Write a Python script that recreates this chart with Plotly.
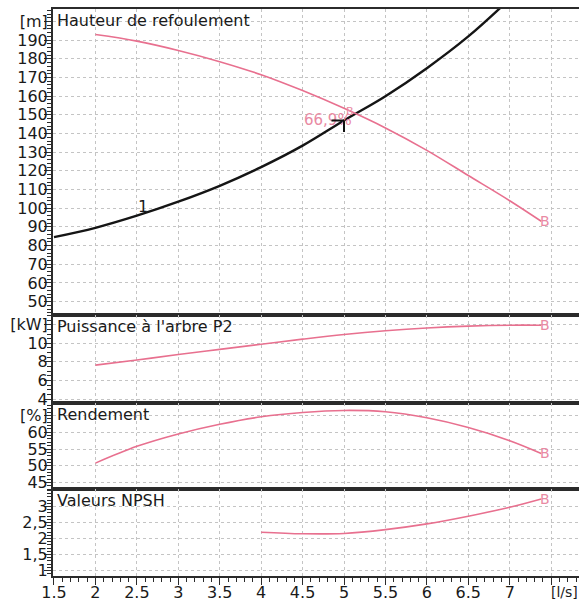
import plotly.graph_objects as go

# ---------------- data ----------------
q_head = [2.0, 2.5, 3.0, 3.5, 4.0, 4.5, 5.0, 5.5, 6.0, 6.5, 7.0, 7.38]
head = [193.0, 189.5, 184.5, 178.5, 171.5, 163.0, 153.5, 143.0, 131.0, 117.5, 104.0, 93.0]

q_sys = [1.5, 2.0, 2.5, 3.0, 3.5, 4.0, 4.5, 5.0, 5.5, 6.0, 6.5, 7.0]
sys_head = [84.5, 89.5, 96.0, 103.5, 112.0, 122.0, 133.5, 147.0, 160.0, 175.0, 192.0, 212.0]

q_pow = [2.0, 2.5, 3.0, 3.5, 4.0, 4.5, 5.0, 5.5, 6.0, 6.5, 7.0, 7.38]
power = [7.65, 8.2, 8.8, 9.35, 9.9, 10.45, 10.95, 11.35, 11.65, 11.85, 11.95, 11.95]

q_eff = [2.0, 2.5, 3.0, 3.5, 4.0, 4.5, 5.0, 5.5, 6.0, 6.5, 7.0, 7.38]
eff = [50.8, 55.8, 59.5, 62.4, 64.6, 65.9, 66.5, 66.1, 64.3, 61.4, 57.5, 53.7]

q_npsh = [4.0, 4.5, 5.0, 5.5, 6.0, 6.5, 7.0, 7.38]
npsh = [2.2, 2.15, 2.16, 2.28, 2.46, 2.7, 2.98, 3.24]

q_op = 5.07
head_op = 151.8
eff_op_text = "66,9%"
q_sys_mark = 5.0
sys_mark = 147.0
q_curve_label = 2.57
sys_curve_label = 97.3

x_tickvals = [1.5, 2, 2.5, 3, 3.5, 4, 4.5, 5, 5.5, 6, 6.5, 7, 7.5]
x_ticktext = ["1.5", "2", "2.5", "3", "3.5", "4", "4.5", "5", "5.5", "6", "6.5", "7", ""]
x_unit = "[l/s]"
x_unit_pos = 7.66

h_tickvals = [50, 60, 70, 80, 90, 100, 110, 120, 130, 140, 150, 160, 170, 180, 190, 200]
h_ticktext = ["50", "60", "70", "80", "90", "100", "110", "120", "130", "140", "150",
              "160", "170", "180", "190", "[m]"]
p_tickvals = [4, 6, 8, 10, 12]
p_ticktext = ["4", "6", "8", "10", "[kW]"]
e_tickvals = [45, 50, 55, 60, 65]
e_ticktext = ["45", "50", "55", "60", "[%]"]
n_tickvals = [1, 1.5, 2, 2.5, 3]
n_ticktext = ["1", "1,5", "2", "2,5", "3"]

titles = ["Hauteur de refoulement", "Puissance à l'arbre P2", "Rendement", "Valeurs NPSH"]

# ---------------- style ----------------
PINK = "#e8708f"
PINK_TXT = "#e98aa3"
AX = "#2b2b2b"
GRID = "#c4c4c4"
FONT = "DejaVu Sans, Arial, sans-serif"
FS = 16
TXT = "#1a1a1a"

XR = [1.488, 7.836]
domains = [[0.4603, 1.0], [0.3056, 0.4603], [0.1529, 0.3056], [0.0, 0.1529]]
yranges = [[42.8, 206.7], [3.6, 13.05], [43.0, 68.8], [0.83, 3.54]]
yticks = [(h_tickvals, h_ticktext, 2), (p_tickvals, p_ticktext, 0.5),
          (e_tickvals, e_ticktext, 1), (n_tickvals, n_ticktext, 0.1)]

fig = go.Figure()

def ax(i):
    return ("x" if i == 0 else f"x{i+1}"), ("y" if i == 0 else f"y{i+1}")

# traces
xa, ya = ax(0)
fig.add_trace(go.Scatter(x=q_sys, y=sys_head, mode="lines", xaxis=xa, yaxis=ya,
                         line=dict(color="#151515", width=2.4, shape="spline")))
fig.add_trace(go.Scatter(x=q_head, y=head, mode="lines", xaxis=xa, yaxis=ya,
                         line=dict(color=PINK, width=1.6, shape="spline")))
xa, ya = ax(1)
fig.add_trace(go.Scatter(x=q_pow, y=power, mode="lines", xaxis=xa, yaxis=ya,
                         line=dict(color=PINK, width=1.6, shape="spline")))
xa, ya = ax(2)
fig.add_trace(go.Scatter(x=q_eff, y=eff, mode="lines", xaxis=xa, yaxis=ya,
                         line=dict(color=PINK, width=1.6, shape="spline")))
xa, ya = ax(3)
fig.add_trace(go.Scatter(x=q_npsh, y=npsh, mode="lines", xaxis=xa, yaxis=ya,
                         line=dict(color=PINK, width=1.6, shape="spline")))

layout = dict(
    width=579, height=602,
    margin=dict(l=53, r=0, t=9, b=26, autoexpand=False),
    paper_bgcolor="white", plot_bgcolor="white",
    showlegend=False,
    font=dict(family=FONT, size=FS, color=TXT),
)

for i in range(4):
    xk = "xaxis" if i == 0 else f"xaxis{i+1}"
    yk = "yaxis" if i == 0 else f"yaxis{i+1}"
    xa, ya = ax(i)
    last = (i == 3)
    layout[xk] = dict(
        domain=[0, 1], range=XR, anchor=ya, automargin=False,
        showline=True, linecolor=AX, linewidth=2, mirror=True,
        tickmode="array", tickvals=x_tickvals, ticktext=x_ticktext,
        showticklabels=last, ticks="outside" if last else "",
        ticklen=7, tickwidth=1.3, tickcolor=AX, ticklabelstandoff=-6,
        showgrid=True, gridcolor=GRID, griddash="dot", gridwidth=1,
        zeroline=False, fixedrange=True,
        tickfont=dict(family=FONT, size=FS, color=TXT),
    )
    if last:
        layout[xk]["minor"] = dict(ticks="outside", ticklen=4, tick0=1.5, dtick=0.1,
                                   tickcolor=AX, tickwidth=1, showgrid=False)
    tv, tt, mdt = yticks[i]
    layout[yk] = dict(
        domain=domains[i], range=yranges[i], anchor=xa, automargin=False,
        showline=True, linecolor=AX, linewidth=2, mirror=False,
        tickmode="array", tickvals=tv, ticktext=tt,
        ticks="outside", ticklen=7, tickwidth=1.3, tickcolor=AX, ticklabelstandoff=-7,
        minor=dict(ticks="outside", ticklen=4, tick0=tv[0], dtick=mdt,
                   tickcolor=AX, tickwidth=1, showgrid=False),
        showgrid=True, gridcolor=GRID, griddash="dot", gridwidth=1,
        zeroline=False, fixedrange=True,
        tickfont=dict(family=FONT, size=FS, color=TXT),
    )

fig.update_layout(**layout)

annotations = []
# panel titles
for i, t in enumerate(titles):
    _, ya = ax(i)
    annotations.append(dict(text=t, xref="paper", x=0, xanchor="left", xshift=2,
                            yref=f"{ya} domain", y=1, yanchor="top", yshift=0,
                            showarrow=False, font=dict(family=FONT, size=FS, color=TXT)))
# x unit
annotations.append(dict(text=x_unit, xref="x4", x=x_unit_pos, yref="y4 domain", y=0,
                        yanchor="top", yshift=-6, showarrow=False,
                        font=dict(family=FONT, size=FS - 2, color=TXT)))
# B end markers
ends = [(q_head, head, 0), (q_pow, power, 1), (q_eff, eff, 2), (q_npsh, npsh, 3)]
for qs, vs, i in ends:
    xa, ya = ax(i)
    annotations.append(dict(text="B", xref=xa, yref=ya, x=qs[-1], y=vs[-1],
                            xanchor="left", yanchor="middle", xshift=-3,
                            showarrow=False, font=dict(family=FONT, size=14, color=PINK_TXT)))
# operating point
annotations.append(dict(text="B", xref="x", yref="y", x=q_op, y=head_op,
                        xanchor="center", yanchor="middle", showarrow=False,
                        font=dict(family=FONT, size=11, color=PINK_TXT)))
annotations.append(dict(text=eff_op_text, xref="x", yref="y", x=q_op, y=head_op,
                        xanchor="right", yanchor="middle", xshift=4, yshift=-8,
                        showarrow=False, font=dict(family=FONT, size=FS - 1, color=PINK_TXT)))
# black corner mark on system curve
annotations.append(dict(text="", xref="x", yref="y", x=q_sys_mark, y=sys_mark,
                        showarrow=True, ax=-14, ay=0, arrowhead=0, arrowwidth=2,
                        arrowcolor="#111"))
annotations.append(dict(text="", xref="x", yref="y", x=q_sys_mark, y=sys_mark,
                        showarrow=True, ax=0, ay=13, arrowhead=0, arrowwidth=2,
                        arrowcolor="#111"))
# curve label
annotations.append(dict(text="1", xref="x", yref="y", x=q_curve_label, y=sys_curve_label,
                        xanchor="center", yanchor="bottom", yshift=-5, showarrow=False,
                        font=dict(family=FONT, size=FS, color=TXT)))

fig.update_layout(annotations=annotations)
fig.write_html("out.html", config={"displayModeBar": False},
               post_script="document.body.style.margin='0';document.body.style.overflow='hidden';")
